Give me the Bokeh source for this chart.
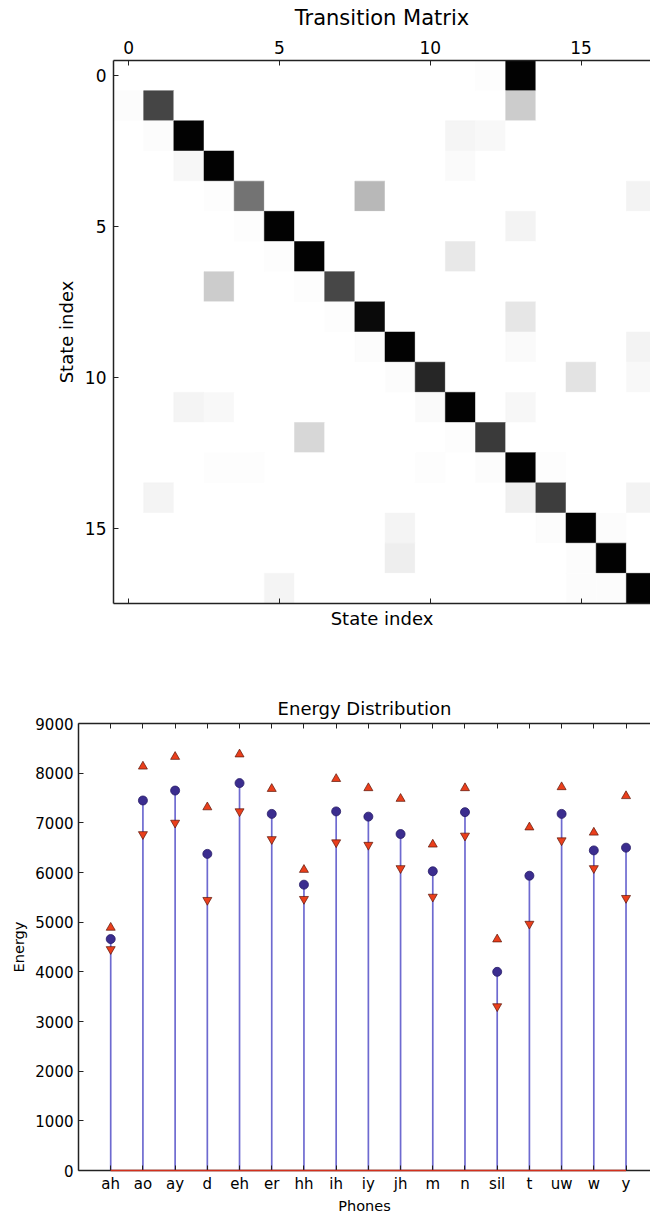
import numpy as np
from bokeh.plotting import figure
from bokeh.models import ColumnDataSource, Range1d, FixedTicker, LinearAxis, CustomJSTickFormatter
from bokeh.transform import linear_cmap
from bokeh.palettes import Greys256
from bokeh.embed import file_html
from bokeh.resources import INLINE

# ---------------- data ----------------
state_ticks = [0, 5, 10, 15]
n_states = 18
# sparse description of each row of the transition matrix: {column: probability}
transition_rows = [
    {12: 0.01, 13: 0.99},
    {0: 0.015, 1: 0.73, 13: 0.20},
    {1: 0.015, 2: 0.99, 11: 0.04, 12: 0.03},
    {2: 0.035, 3: 0.99, 11: 0.02},
    {3: 0.01, 4: 0.55, 8: 0.28, 17: 0.05},
    {4: 0.01, 5: 0.99, 13: 0.05},
    {5: 0.01, 6: 0.99, 11: 0.09},
    {3: 0.20, 6: 0.01, 7: 0.72},
    {7: 0.01, 8: 0.96, 13: 0.10},
    {8: 0.015, 9: 0.99, 13: 0.02, 17: 0.05},
    {9: 0.015, 10: 0.85, 15: 0.11, 17: 0.03},
    {2: 0.045, 3: 0.03, 10: 0.02, 11: 0.99, 13: 0.035},
    {6: 0.16, 11: 0.01, 12: 0.77},
    {3: 0.01, 4: 0.01, 10: 0.01, 12: 0.015, 13: 0.99, 14: 0.01},
    {1: 0.045, 13: 0.06, 14: 0.76, 17: 0.05},
    {9: 0.045, 14: 0.015, 15: 0.99, 16: 0.015},
    {9: 0.07, 15: 0.015, 16: 0.99},
    {5: 0.045, 15: 0.015, 16: 0.015, 17: 0.99},
]

phones = ["ah", "ao", "ay", "d", "eh", "er", "hh", "ih", "iy", "jh",
          "m", "n", "sil", "t", "uw", "w", "y"]
energy_mean = [4660, 7450, 7650, 6375, 7800, 7180, 5755, 7230, 7125, 6775,
               6025, 7215, 4000, 5935, 7180, 6445, 6500]
energy_upper = [4890, 8135, 8330, 7315, 8380, 7685, 6055, 7885, 7700, 7485,
                6565, 7700, 4655, 6910, 7720, 6805, 7540]
energy_lower = [4455, 6770, 7000, 5445, 7230, 6670, 5465, 6605, 6555, 6085,
                5510, 6740, 3305, 4965, 6645, 6085, 5485]
energy_ticks = [0, 1000, 2000, 3000, 4000, 5000, 6000, 7000, 8000, 9000]

FONT = "DejaVu Sans"
SPINE = "#222222"
blank = CustomJSTickFormatter(code="return ''")

# ---------------- transition matrix ----------------
cx, cy, cv = [], [], []
for r, row in enumerate(transition_rows):
    for c in range(n_states):
        cx.append(c)
        cy.append(r)
        cv.append(row.get(c, 0.0))
msrc = ColumnDataSource(dict(x=cx, y=cy, v=cv))

p1 = figure(width=650, height=640, x_range=Range1d(-0.5, 17.3), y_range=Range1d(17.5, -0.5),
            output_backend="svg", toolbar_location=None,
            x_axis_location=None, y_axis_location=None,
            min_border_left=113, min_border_right=0, min_border_top=60, min_border_bottom=37)
p1.outline_line_color = None
p1.background_fill_color = "white"
p1.border_fill_color = "white"
p1.title.text = ""
p1.title.standoff = 0
for g in list(p1.xgrid) + list(p1.ygrid):
    g.visible = False

cmap = linear_cmap("v", list(reversed(Greys256)), 0, 1)
p1.rect(x="x", y="y", width=1, height=1, source=msrc,
        fill_color=cmap, line_color=cmap, line_width=0.5)

def style_axis(ax, label_size):
    ax.axis_line_color = SPINE
    ax.axis_line_width = 1.5
    ax.major_tick_in = 5
    ax.major_tick_out = 0
    ax.major_tick_line_color = SPINE
    ax.minor_tick_line_color = None
    ax.major_label_text_font = FONT
    ax.major_label_text_font_size = label_size
    ax.major_label_text_color = "black"
    ax.axis_label_text_font = FONT
    ax.axis_label_text_font_style = "normal"
    ax.axis_label_text_color = "black"

# the chart title sits above the top tick labels
top1 = LinearAxis(ticker=FixedTicker(ticks=state_ticks), axis_label="Transition Matrix")
style_axis(top1, "17px")
top1.major_label_standoff = 7
top1.axis_label_text_font_size = "21px"
top1.axis_label_standoff = 8
p1.add_layout(top1, "above")

left1 = LinearAxis(ticker=FixedTicker(ticks=state_ticks), axis_label="State index")
style_axis(left1, "17px")
left1.major_label_standoff = 7
left1.axis_label_text_font_size = "18px"
left1.axis_label_standoff = 5
p1.add_layout(left1, "left")

bot1 = LinearAxis(ticker=FixedTicker(ticks=state_ticks), axis_label="State index",
                  formatter=blank)
style_axis(bot1, "17px")
bot1.major_label_standoff = 0
bot1.axis_label_text_font_size = "18px"
bot1.axis_label_standoff = 4
p1.add_layout(bot1, "below")

# ---------------- energy distribution ----------------
xs = list(range(len(phones)))
esrc = ColumnDataSource(dict(x=xs, mean=energy_mean, upper=energy_upper,
                             lower=energy_lower, zero=[0] * len(xs)))

p2 = figure(width=650, height=576, x_range=Range1d(-1, 16.76), y_range=Range1d(0, 9000),
            output_backend="svg", toolbar_location=None,
            x_axis_location=None, y_axis_location=None,
            min_border_left=78, min_border_right=0, min_border_top=83, min_border_bottom=41)
p2.outline_line_color = None
p2.background_fill_color = "white"
p2.border_fill_color = "white"
for g in list(p2.xgrid) + list(p2.ygrid):
    g.visible = False

p2.segment(x0="x", y0="zero", x1="x", y1="mean", source=esrc,
           line_color="#5550c8", line_width=1.7, line_alpha=0.85)
base = p2.segment(x0=[xs[0]], y0=[0], x1=[xs[-1]], y1=[0],
                  line_color="#d4301c", line_width=1.5)
base.level = "overlay"
p2.scatter("x", "mean", source=esrc, marker="circle", size=9,
           fill_color="#3b2d8f", line_color="#261a66", line_width=0.8)
p2.scatter("x", "upper", source=esrc, marker="triangle", size=9,
           fill_color="#ea3f1c", line_color="#5a1608", line_width=0.7)
p2.scatter("x", "lower", source=esrc, marker="inverted_triangle", size=9,
           fill_color="#ea3f1c", line_color="#5a1608", line_width=0.7)

p2.title.text = "Energy Distribution"
p2.title.align = "center"
p2.title.text_font = FONT
p2.title.text_font_size = "18px"
p2.title.text_font_style = "normal"
p2.title.text_color = "black"

top2 = LinearAxis(ticker=FixedTicker(ticks=xs), formatter=blank)
style_axis(top2, "15px")
top2.major_label_standoff = 0
p2.add_layout(top2, "above")

left2 = LinearAxis(ticker=FixedTicker(ticks=energy_ticks), axis_label="Energy")
style_axis(left2, "15px")
left2.major_label_standoff = 5
left2.axis_label_text_font_size = "14.5px"
left2.axis_label_standoff = 5
p2.add_layout(left2, "left")

bot2 = LinearAxis(ticker=FixedTicker(ticks=xs), axis_label="Phones")
style_axis(bot2, "15px")
bot2.major_label_overrides = {i: name for i, name in enumerate(phones)}
bot2.major_label_standoff = 4
bot2.axis_label_text_font_size = "14.5px"
bot2.axis_label_standoff = 2
p2.add_layout(bot2, "below")

open("out.html", "w").write(file_html([p1, p2], INLINE))
